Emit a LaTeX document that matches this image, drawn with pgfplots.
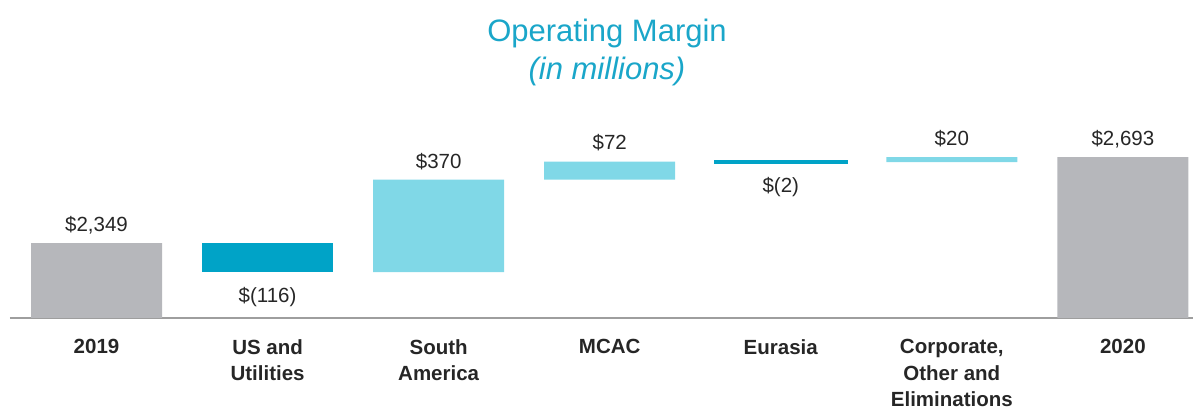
\documentclass[border=0pt]{standalone}
\usepackage{pgfplots}
\pgfplotsset{compat=1.18}
\usepackage{fontspec}
\setmainfont{Liberation Sans}

\definecolor{barGray}{HTML}{B6B7BB}
\definecolor{darkTeal}{HTML}{00A3C7}
\definecolor{lightTeal}{HTML}{80D8E7}
\definecolor{titleBlue}{HTML}{1AA6C9}
\definecolor{txt}{HTML}{262626}

% waterfall: base (invisible), totals, decreases, increases
\pgfplotstableread{
x base total down eurasia up
0 0    2349 0   0 0
1 2233 0    116 0 0
2 2233 0    0   0 370
3 2603 0    0   0 72
4 2673 0    0   2 0
5 2673 0    0   0 20
6 0    2693 0   0 0
}\wfdata

\pgfplotstableread{
x y label
0 2422 {\$2,349}
1 2134 {\$(116)}
2 2674 {\$370}
3 2750 {\$72}
4 2574 {\$(2)}
5 2766 {\$20}
6 2766 {\$2,693}
}\labeldata

\pgfplotsset{wf/.style={
    scale only axis,
    at={(10pt,92pt)}, anchor=south west,
    width=1183pt, height=200pt,
    xmin=-0.506, xmax=6.41,
    ymin=2050, ymax=2850,
}}

\begin{document}
\begin{tikzpicture}
\useasboundingbox (0,0) rectangle (1193pt,410pt);

\begin{axis}[wf,
    ybar stacked,
    bar width=131pt,
    axis x line*=bottom,
    axis y line=none,
    axis line style={draw=black!38, line width=2pt, -},
    xtick={0,...,6},
    major tick length=0pt,
    xticklabels={2019, US and\\Utilities, South\\America, MCAC, Eurasia, {Corporate,\\Other and\\Eliminations}, 2020},
    xticklabel style={font=\fontsize{20.5}{26.5}\selectfont\bfseries, text=txt, align=center, anchor=north, yshift=-18pt},
]
\addplot[draw=none, fill=none] table[x=x, y=base] {\wfdata};
\addplot[draw=none, fill=barGray] table[x=x, y=total] {\wfdata};
\addplot[draw=none, fill=darkTeal] table[x=x, y=down] {\wfdata};
\addplot[draw=darkTeal, fill=darkTeal, line width=3pt, line cap=round] table[x=x, y=eurasia] {\wfdata};
\addplot[draw=none, fill=lightTeal] table[x=x, y=up] {\wfdata};
\end{axis}

\begin{axis}[wf, hide axis, clip=false]
\addplot[draw=none, mark=none, nodes near coords, point meta=explicit symbolic,
    every node near coord/.append style={anchor=center, font=\fontsize{20.5}{24}\selectfont, text=txt}]
    table[x=x, y=y, meta=label] {\labeldata};
\end{axis}

\node[text=titleBlue, font=\fontsize{31}{34}\selectfont] at (607pt,377pt) {Operating Margin};
\node[text=titleBlue, font=\fontsize{31}{34}\selectfont\itshape] at (607pt,339pt) {(in millions)};
\end{tikzpicture}
\end{document}
